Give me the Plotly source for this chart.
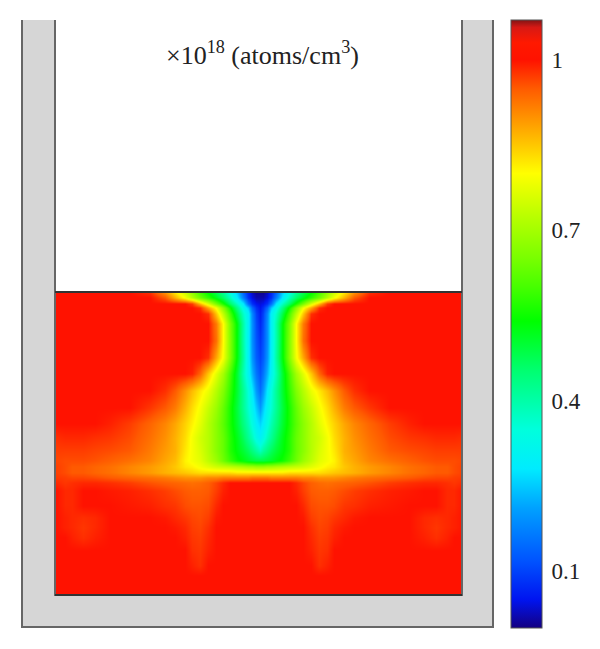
import plotly.graph_objects as go

half_x = [55,65,72,83,95,110,130,150,165,175,185,192,200,208,216,223,230,237,243,248,252,256,259.5]
axis_sum = 519
row_y = [292,297,303,307,313,323,340,357,373,390,407,423,437,450,460,466,472,477,482,490,505,517,527,537,550,565,575,595]
R = [1]
half_rows = [
R*7+[.98,.9,.82,.75,.68,.6,.54,.48,.42,.34,.25,.14,.07,.03,.01,.01],
R*7+[1,.95,.87,.79,.72,.64,.58,.52,.46,.38,.28,.17,.08,.04,.02,.02],
R*7+[1,1,1,1,.97,.86,.76,.65,.56,.46,.37,.28,.15,.08,.05,.04],
R*7+[1,1,1,1,1,.98,.88,.79,.67,.55,.43,.33,.25,.14,.08,.05],
R*7+[1,1,1,1,1,1,.98,.85,.73,.6,.48,.37,.3,.18,.1,.06],
R*7+[1,1,1,1,1,1,1,.92,.8,.65,.53,.4,.3,.19,.11,.07],
R*7+[1,1,1,1,1,1,1,.93,.8,.66,.53,.4,.3,.19,.12,.085],
R*7+[1,1,1,1,1,1,.98,.88,.79,.66,.53,.41,.3,.2,.13,.1],
R*7+[1,1,1,1,.99,.94,.85,.77,.7,.6,.5,.39,.31,.23,.16,.12],
R*7+[1,.98,.95,.9,.86,.82,.78,.72,.66,.58,.5,.42,.35,.28,.2,.15],
R*7+[.975,.95,.92,.87,.83,.79,.74,.69,.63,.56,.49,.42,.36,.31,.25,.2],
[1,1,1,1,1,.99,.97,.94,.91,.88,.84,.81,.77,.72,.67,.62,.56,.5,.44,.39,.34,.29,.26],
[.98,.985,.985,.985,.98,.975,.96,.93,.9,.87,.83,.79,.75,.72,.67,.63,.57,.52,.47,.42,.38,.33,.3],
[.97,.97,.97,.97,.965,.96,.95,.92,.89,.87,.82,.79,.76,.72,.67,.63,.57,.53,.5,.47,.44,.41,.38],
[.965,.96,.96,.96,.955,.945,.93,.91,.88,.86,.81,.79,.77,.73,.69,.64,.59,.55,.53,.51,.5,.49,.49],
[.97,.96,.95,.95,.94,.93,.91,.89,.87,.85,.82,.81,.79,.77,.75,.74,.73,.72,.71,.7,.7,.69,.69],
[.97,.96,.95,.95,.94,.93,.91,.89,.87,.86,.85,.84,.83,.83,.83,.83,.83,.82,.82,.82,.82,.82,.82],
[.975,.97,.965,.965,.96,.95,.94,.93,.92,.91,.9,.9,.9,.91,.91,.92,.92,.92,.92,.92,.93,.93,.93],
[.985,.975,.98,.985,.985,.98,.97,.955,.945,.94,.935,.93,.935,.945,.965,.985,1,1,1,1,1,1,1],
[1,.985,.985,1,1,.995,.99,.98,.97,.96,.95,.945,.945,.95,.97,.99,1,1,1,1,1,1,1],
[1,.985,.985,1,1,1,.995,.99,.98,.975,.96,.955,.955,.96,.985,1,1,1,1,1,1,1,1],
[1,.99,.985,.98,.985,1,1,1,.995,.985,.975,.965,.96,.97,.995,1,1,1,1,1,1,1,1],
[1,.99,.985,.975,.985,1,1,1,1,.995,.985,.97,.965,.98,1,1,1,1,1,1,1,1,1],
[1,1,.99,.98,.99,1,1,1,1,1,.99,.975,.97,.985,1,1,1,1,1,1,1,1,1],
[1,1,1,1,1,1,1,1,1,1,1,.98,.975,.99,1,1,1,1,1,1,1,1,1],
[1,1,1,1,1,1,1,1,1,1,1,.99,.98,1,1,1,1,1,1,1,1,1,1],
R*23,
R*23,
]
tick_values = [1, 0.7, 0.4, 0.1]
tick_labels = ["1", "0.7", "0.4", "0.1"]
unit_label = "×10<sup>18</sup> (atoms/cm<sup>3</sup>)"
value_max = 1.07
color_stops = [
 (0,(20,0,130)),(.05,(0,20,240)),(.12,(0,85,255)),(.21,(0,160,255)),(.28,(0,235,255)),
 (.35,(0,255,220)),(.455,(0,255,110)),(.54,(0,255,0)),(.6,(70,255,0)),(.65,(120,255,0)),(.73,(190,255,0)),
 (.8,(255,255,0)),(.84,(255,210,0)),(.895,(255,150,0)),(.95,(255,90,0)),(1.0,(255,18,0)),
 (1.03,(255,25,0)),(1.057,(215,25,20)),(1.07,(130,20,20)),
]
colorscale = [[v/value_max, f"rgb{c}"] for v, c in color_stops]

x = half_x + [axis_sum - v for v in half_x[-2::-1]]
z = [r + r[-2::-1] for r in half_rows]

fig = go.Figure(go.Heatmap(
    x=x, y=row_y, z=z, zmin=0, zmax=value_max, zsmooth="best",
    colorscale=colorscale, hoverinfo="skip",
    colorbar=dict(
        thickness=31, thicknessmode="pixels", len=608, lenmode="pixels",
        x=511/600, xanchor="left", xpad=0, y=1-20/649, yanchor="top", ypad=0,
        outlinewidth=1, outlinecolor="#555",
        tickmode="array", tickvals=tick_values, ticktext=tick_labels,
        ticks="outside", ticklen=5, tickcolor="rgba(0,0,0,0)",
        tickfont=dict(family="Liberation Serif", size=23, color="#222"),
    ),
))

wall = "#d6d6d6"; edge = "#666666"
shapes = [
    dict(type="rect", x0=55, x1=462, y0=20, y1=292, fillcolor="white", line_width=0),
    dict(type="path", path="M22,20 L55,20 L55,595 L462,595 L462,20 L493,20 L493,627 L22,627 Z",
         fillcolor=wall, line_width=0),
    dict(type="path", path="M22,20 L22,627 L493,627 L493,20", line=dict(color=edge, width=2)),
    dict(type="path", path="M55,20 L55,595 L462,595 L462,20", line=dict(color=edge, width=2)),
    dict(type="line", x0=55, x1=462, y0=292, y1=292, line=dict(color="#333", width=2)),
    dict(type="line", x0=55, x1=462, y0=595, y1=595, line=dict(color="#333", width=2)),
]
for s in shapes:
    s.update(xref="x", yref="y", layer="above")

fig.update_layout(
    width=600, height=649, margin=dict(l=0, r=0, t=0, b=0),
    paper_bgcolor="white", plot_bgcolor="white", showlegend=False,
    xaxis=dict(range=[0, 600], visible=False, domain=[0, 1]),
    yaxis=dict(range=[649, 0], visible=False, domain=[0, 1]),
    shapes=shapes,
    annotations=[dict(text=unit_label, x=262, y=53, xref="x", yref="y", showarrow=False,
                      font=dict(family="Liberation Serif", size=26, color="#222"))],
)
fig.write_html("out.html", post_script="document.body.style.margin='0';",
               config={"displayModeBar": False})
